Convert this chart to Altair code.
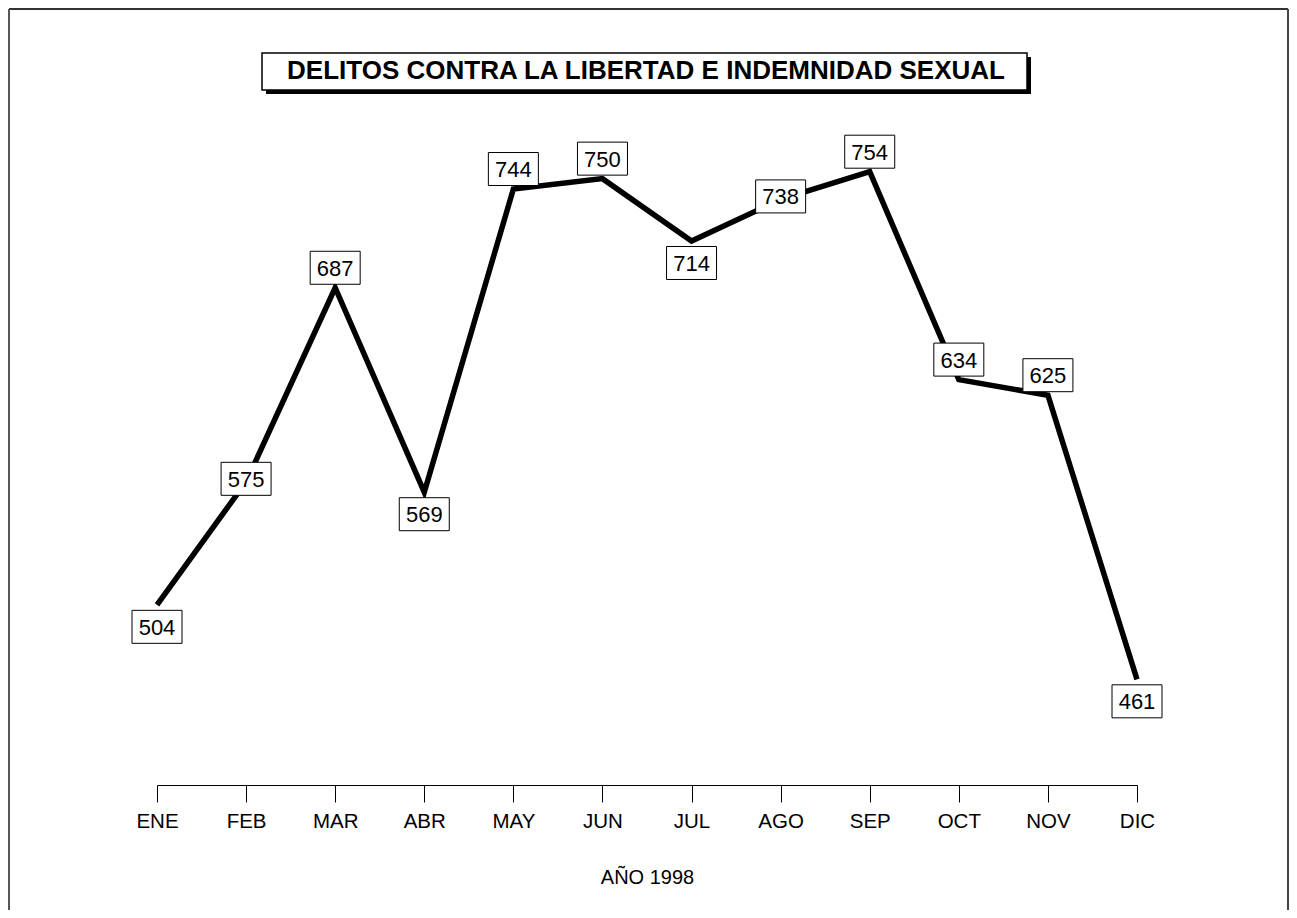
import altair as alt
import pandas as pd

meses = ["ENE", "FEB", "MAR", "ABR", "MAY", "JUN", "JUL", "AGO", "SEP", "OCT", "NOV", "DIC"]
valores = [504, 575, 687, 569, 744, 750, 714, 738, 754, 634, 625, 461]
posicion = ["below", "on", "above", "below", "above", "above", "below", "on", "above", "above", "above", "below"]
titulo = "DELITOS CONTRA LA LIBERTAD E INDEMNIDAD SEXUAL"
eje_titulo = "AÑO 1998"

df = pd.DataFrame({"mes": meses, "valor": valores, "pos": posicion})

FONT = "Liberation Sans"

x_enc = alt.X("mes:N", sort=meses, scale=alt.Scale(type="point", padding=0),
              axis=alt.Axis(title=eje_titulo, labelAngle=0, labelFontSize=20.5, titleFontSize=20,
                            titleFontWeight="normal", labelFont=FONT, titleFont=FONT,
                            labelColor="black", titleColor="black", tickSize=17, tickColor="black",
                            domainColor="black", tickWidth=1, domainWidth=1, labelPadding=9,
                            titlePadding=36, grid=False))
y_enc = alt.Y("valor:Q", scale=alt.Scale(domain=[400, 800], nice=False, zero=False), axis=None)

base = alt.Chart(df)

line = base.mark_line(color="black", strokeWidth=5.5, strokeJoin="miter").encode(x=x_enc, y=y_enc)

offsets = {"above": -20, "on": -3, "below": 22}
layers = [line]
box_path = "M-1,-0.66L1,-0.66L1,0.66L-1,0.66Z"
for pos, off in offsets.items():
    sub = base.transform_filter(alt.datum.pos == pos)
    layers.append(sub.mark_point(shape=box_path, size=2500, filled=True, fill="white",
                                 stroke="black", strokeWidth=1, opacity=1, yOffset=off)
                  .encode(x=alt.X("mes:N", sort=meses), y="valor:Q"))
    layers.append(sub.mark_text(font=FONT, fontSize=22, color="black", baseline="middle",
                                align="center", yOffset=off + 1)
                  .encode(x=alt.X("mes:N", sort=meses), y="valor:Q", text="valor:Q"))

# decorative title box with shadow
deco = alt.Chart(pd.DataFrame({"t": [titulo]}))
shadow = deco.mark_rect(color="black").encode(
    x=alt.value(109), x2=alt.value(874), y=alt.value(-35), y2=alt.value(2))
box = deco.mark_rect(fill="white", stroke="black", strokeWidth=1.5).encode(
    x=alt.value(105), x2=alt.value(870), y=alt.value(-39), y2=alt.value(-2))
title_text = deco.mark_text(font=FONT, fontSize=26, fontWeight="bold", color="black",
                            align="center", baseline="alphabetic").encode(
    x=alt.value(489), y=alt.value(-13), text="t:N")

# outer frame (left, top, right)
frame_top = deco.mark_rule(color="#333333", strokeWidth=2).encode(
    x=alt.value(-148), x2=alt.value(1131), y=alt.value(-83))
frame_left = deco.mark_rule(color="#555555", strokeWidth=2).encode(
    x=alt.value(-148), y=alt.value(-83), y2=alt.value(830))
frame_right = deco.mark_rule(color="#444444", strokeWidth=2).encode(
    x=alt.value(1131), y=alt.value(-83), y2=alt.value(830))

chart = alt.layer(*layers, frame_top, frame_left, frame_right, shadow, box, title_text).properties(
    width=980, height=693,
    padding={"left": 149, "right": 152, "top": 84, "bottom": 125},
    autosize=alt.AutoSizeParams(type="none"),
    background="white",
).configure_view(stroke=None)

chart.save("out.html", embed_options={"renderer": "svg", "actions": False})
